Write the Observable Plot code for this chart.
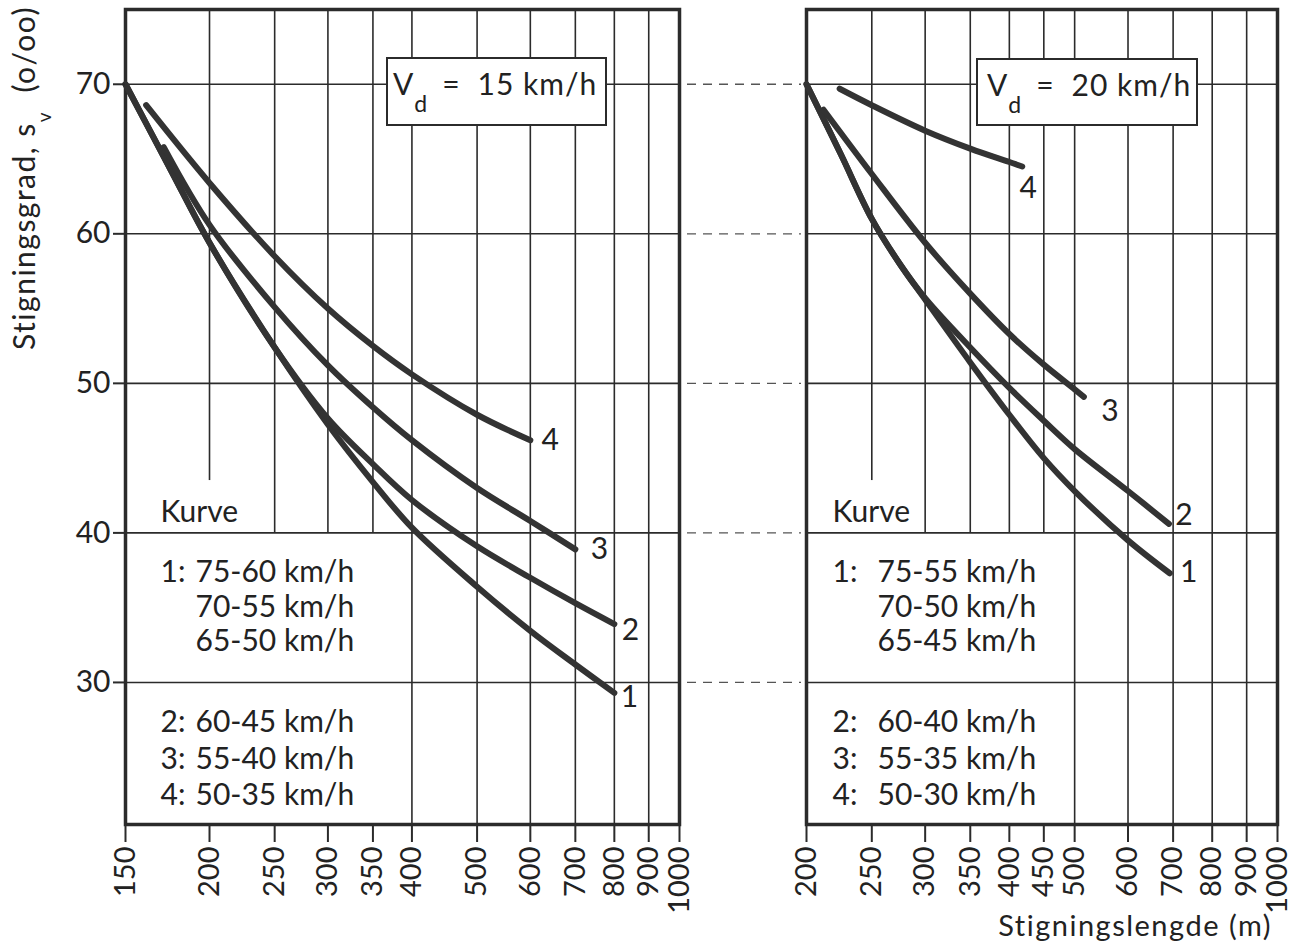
<!DOCTYPE html>
<html>
<head>
<meta charset="utf-8">
<script src="https://cdn.jsdelivr.net/npm/d3@7"></script>
<script src="https://cdn.jsdelivr.net/npm/@observablehq/plot@0.6"></script>
<style>
  html, body { margin: 0; padding: 0; background: #fff; }
  #wrap { position: relative; width: 1299px; height: 948px; overflow: hidden; font-family: Lato, "Liberation Sans", sans-serif; color: #222; }
  .abs { position: absolute; top: 0; }
  .vbox { position: absolute; background: #fff; border: 2px solid #2b2b2b; box-sizing: border-box; font-size: 30px; }
  .vbox .t { position: absolute; top: 9px; line-height: 30px; white-space: pre; }
  .vbox .sub { font-size: 23px; position: relative; top: 17px; margin-left: 1px; }
  .vbox .sp { letter-spacing: 1px; }
  #ylabel { position: absolute; left: 5px; top: 350px; transform-origin: left top; transform: rotate(-90deg); font-size: 30px; line-height: 36px; white-space: pre; letter-spacing: 1.5px; }
  #ylabel sub { font-size: 19px; vertical-align: baseline; position: relative; top: 16px; }
  #xlabel { position: absolute; right: 27px; top: 907px; font-size: 29px; line-height: 36px; white-space: pre; letter-spacing: 1.5px; }
</style>
</head>
<body>
<div id="wrap"></div>
<script>
// ---------- data ----------
const yTicks = [30, 40, 50, 60, 70];
const xTicksLeft = [150, 200, 250, 300, 350, 400, 500, 600, 700, 800, 900, 1000];
const xTicksRight = [200, 250, 300, 350, 400, 450, 500, 600, 700, 800, 900, 1000];
const curveIds = ["1", "2", "3", "4"];

// Vd = 15 km/h  (stigningslengde m, stigningsgrad o/oo)
const left1 = [[150, 70], [175, 64.3], [200, 59.4], [250, 52.4], [300, 47.25], [350, 43.4], [400, 40.35], [500, 36.4], [600, 33.45], [700, 31.2], [800, 29.3]];
const left2 = [[150, 70], [175, 64.3], [200, 59.4], [250, 52.4], [300, 47.65], [350, 44.6], [400, 42.2], [500, 39.1], [600, 37.0], [700, 35.3], [800, 33.9]];
const left3 = [[171, 65.8], [200, 60.6], [250, 55.1], [300, 51.2], [350, 48.4], [400, 46.2], [500, 43.0], [600, 40.8], [700, 38.9]];
const left4 = [[161, 68.6], [200, 63.4], [250, 58.5], [300, 55.0], [350, 52.5], [400, 50.6], [500, 47.9], [600, 46.2]];

// Vd = 20 km/h
const right1 = [[200, 70], [225, 65.3], [250, 61.0], [275, 58.0], [300, 55.6], [350, 51.4], [400, 47.9], [450, 45.0], [500, 42.8], [600, 39.5], [692, 37.3]];
const right2 = [[200, 70], [225, 65.3], [250, 61.0], [275, 58.0], [300, 55.7], [350, 52.4], [400, 49.7], [450, 47.5], [500, 45.6], [600, 42.8], [690, 40.6]];
const right3 = [[212, 68.3], [250, 64.0], [300, 59.4], [350, 56.0], [400, 53.3], [450, 51.25], [500, 49.6], [516, 49.1]];
const right4 = [[224, 69.7], [250, 68.6], [300, 66.9], [350, 65.7], [400, 64.8], [418, 64.5]];

const speedLeft = "15 km/h";
const speedRight = "20 km/h";
const kurveTitle = "Kurve";
const legendNumsLeft = ["1:", "", "", "2:", "3:", "4:"];
const legendRangesLeft = ["75-60 km/h", "70-55 km/h", "65-50 km/h", "60-45 km/h", "55-40 km/h", "50-35 km/h"];
const legendNumsRight = ["1:", "", "", "2:", "3:", "4:"];
const legendRangesRight = ["75-55 km/h", "70-50 km/h", "65-45 km/h", "60-40 km/h", "55-35 km/h", "50-30 km/h"];
const yTitle = "Stigningsgrad, s";
const yTitleSub = "v";
const yTitleUnit = "  (o/oo)";
const xTitle = "Stigningslengde (m)";

// ---------- layout ----------
const H = 900, MT = 9, MB = 76;
const yDomain = [20.5, 75];
const INK = "#2b2b2b";
const legendRowDy = [563, 598, 632, 713, 750, 786];
const kurveDy = 503;

function makePanel(o) {
  const rows = o.curves.flatMap((c, i) => c.map(([x, y]) => ({x, y, curve: curveIds[i]})));
  const ends = o.curves.map((c, i) => ({x: c[c.length - 1][0], y: c[c.length - 1][1], label: curveIds[i]}));
  const marks = [
    Plot.ruleX(o.xTicks, {stroke: INK, strokeWidth: 1.6}),
    Plot.rect(o.patches, {x1: "x1", x2: "x2", y1: "y1", y2: "y2", fill: "white"}),
    Plot.ruleY(yTicks, {stroke: INK, strokeWidth: 1.6}),
    Plot.frame({stroke: INK, strokeWidth: 3.5}),
    Plot.line(rows, {x: "x", y: "y", z: "curve", curve: "catmull-rom", stroke: "#333", strokeWidth: 6, strokeLinecap: "round", strokeLinejoin: "round"}),
    ...ends.map((e, i) => Plot.text([e], {x: "x", y: "y", text: "label", dx: o.labelOffsets[i][0], dy: o.labelOffsets[i][1], fontSize: 30, fill: "#222", textAnchor: "middle", lineAnchor: "middle"})),
    Plot.text([kurveTitle], {frameAnchor: "top-left", dx: o.kurveDx, dy: kurveDy, textAnchor: "start", lineAnchor: "middle", fontSize: 30, fill: "#222"}),
    ...o.nums.map((t, i) => Plot.text([t], {frameAnchor: "top-left", dx: o.numDx, dy: legendRowDy[i], textAnchor: "start", lineAnchor: "middle", fontSize: 30, fill: "#222"})),
    ...o.ranges.map((t, i) => Plot.text([t], {frameAnchor: "top-left", dx: o.rangeDx, dy: legendRowDy[i], textAnchor: "start", lineAnchor: "middle", fontSize: 30, fill: "#222"})),
    Plot.axisX({ticks: o.xTicks, tickFormat: d => String(d), tickSize: 18, tickPadding: 4, tickRotate: -90, label: null, fontSize: 29, stroke: INK, strokeWidth: 2, fill: "#222"})
  ];
  if (o.showY) marks.push(Plot.axisY({ticks: yTicks, tickSize: 12, tickPadding: 3, label: null, fontSize: 30, stroke: INK, strokeWidth: 2, fill: "#222"}));
  return Plot.plot({
    width: o.width, height: H,
    marginLeft: o.ml, marginRight: o.mr, marginTop: MT, marginBottom: MB,
    x: {type: "log", domain: o.xDomain},
    y: {domain: yDomain, axis: o.showY ? undefined : null},
    style: {fontFamily: "Lato, 'Liberation Sans', sans-serif", fontSize: "30px", color: "#222", background: "transparent", overflow: "visible"},
    marks
  });
}

const wrap = document.getElementById("wrap");
function place(node, left) {
  const d = document.createElement("div");
  d.className = "abs";
  d.style.left = left + "px";
  d.appendChild(node);
  wrap.appendChild(d);
}

const leftPlot = makePanel({
  width: 685, ml: 125, mr: 6, xDomain: [150, 1000], xTicks: xTicksLeft,
  curves: [left1, left2, left3, left4], showY: true,
  patches: [{x1: 150, x2: 380, y1: yDomain[0], y2: 40}, {x1: 150, x2: 240, y1: 40, y2: 43.5}],
  labelOffsets: [[15, 4], [16, 6], [24, 0], [20, 0]],
  kurveDx: 35, numDx: 35, rangeDx: 70,
  nums: legendNumsLeft, ranges: legendRangesLeft
});
place(leftPlot, 0);

const midPlot = Plot.plot({
  width: 128, height: H, marginLeft: 8, marginRight: 6, marginTop: MT, marginBottom: MB,
  x: {domain: [0, 1], axis: null}, y: {domain: yDomain, axis: null},
  style: {background: "transparent"},
  marks: [Plot.ruleY(yTicks, {stroke: "#555", strokeWidth: 1.3, strokeDasharray: "9,7"})]
});
place(midPlot, 679);

const rightPlot = makePanel({
  width: 481, ml: 4, mr: 6, xDomain: [200, 1000], xTicks: xTicksRight,
  curves: [right1, right2, right3, right4], showY: false,
  patches: [{x1: 200, x2: 479, y1: yDomain[0], y2: 40}, {x1: 200, x2: 290, y1: 40, y2: 43.5}],
  labelOffsets: [[19, -1], [15, -9], [26, 15], [6, 22]],
  kurveDx: 26, numDx: 26, rangeDx: 71,
  nums: legendNumsRight, ranges: legendRangesRight
});
place(rightPlot, 802);

// V_d boxes
function vbox(left, top, w, h, pad, speed) {
  const b = document.createElement("div");
  b.className = "vbox";
  Object.assign(b.style, {left: left + "px", top: top + "px", width: w + "px", height: h + "px"});
  const t = document.createElement("div");
  t.className = "t";
  t.style.left = pad + "px";
  t.innerHTML = 'V<span class="sub">d</span><span style="margin-left:15px">=</span><span class="sp" style="margin-left:18px">' + speed + '</span>';
  b.appendChild(t);
  wrap.appendChild(b);
}
vbox(386, 57, 221, 69, 5, speedLeft);
vbox(976, 58, 222, 68, 9, speedRight);

// axis titles
const yl = document.createElement("div");
yl.id = "ylabel";
yl.innerHTML = yTitle + "<sub>" + yTitleSub + "</sub>" + yTitleUnit;
wrap.appendChild(yl);

const xl = document.createElement("div");
xl.id = "xlabel";
xl.textContent = xTitle;
wrap.appendChild(xl);
</script>
</body>
</html>
